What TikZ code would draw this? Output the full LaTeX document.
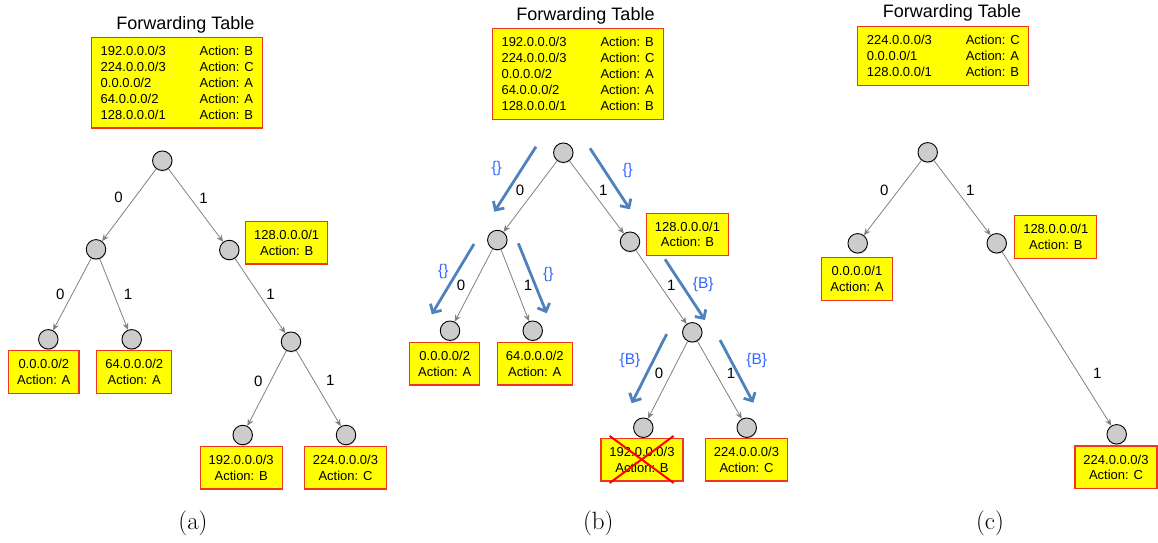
\documentclass[tikz,border=0pt]{standalone}
\usepackage{fontspec}
\setsansfont{Liberation Sans}
\usepackage{tikz}
\usetikzlibrary{arrows.meta, shadows}
\definecolor{tblyellow}{RGB}{255,255,0}
\definecolor{tblred}{RGB}{240,55,30}
\definecolor{flowblue}{RGB}{79,129,189}
\definecolor{setblue}{RGB}{51,102,255}
\tikzset{
  vertex/.style={circle, draw=black, line width=0.9pt, fill=black!20, minimum size=19.5pt, inner sep=0pt,
    drop shadow={shadow xshift=0.5pt, shadow yshift=-1.2pt, opacity=0.25}},
  entry/.style={draw=tblred, line width=1.2pt, fill=tblyellow, align=center, inner xsep=8.5pt,
    minimum height=42.5pt, font=\sffamily\fontsize{13}{15.5}\selectfont},
  fwdtable/.style={draw=tblred, line width=1.2pt, fill=tblyellow, inner xsep=9pt, inner ysep=4pt,
    font=\sffamily\fontsize{13}{16}\selectfont},
  heading/.style={anchor=base, font=\sffamily\fontsize{18}{20}\selectfont},
  branch/.style={draw=black!50, line width=0.8pt, -{Stealth[length=7pt, width=6pt, inset=2.5pt]}},
  bit/.style={font=\sffamily\fontsize{15}{17}\selectfont},
  flow/.style={draw=flowblue, line width=2.8pt, -{Straight Barb[length=6.5pt, width=13pt]}},
  setlabel/.style={text=setblue, font=\sffamily\fontsize{15.5}{17}\selectfont},
  cross/.style={draw=red, line width=2pt},
  subcap/.style={font=\fontsize{25}{29}\selectfont}
}
\newcommand{\fwtab}[1]{\begin{tabular}{@{}p{99pt}@{}l@{}}#1\end{tabular}}

\begin{document}
\begin{tikzpicture}[x=1pt, y=-1pt]
  \useasboundingbox (0,0) rectangle (1158,542);

  % ---------------- (a) full table ----------------
  \node[heading] (ahead) at (185.3,29.3) {Forwarding Table};
  \node[fwdtable] (atbl) at (177.2,82.5) {\fwtab{%
    \rule{0pt}{14pt}192.0.0.0/3 & Action: B\\
    224.0.0.0/3 & Action: C\\
    0.0.0.0/2 & Action: A\\
    64.0.0.0/2 & Action: A\\
    128.0.0.0/1 & Action: B}};
  % trie nodes
  \foreach \n/\p in {a0/{162.3,160.7}, aL/{96,249.3}, aR/{229.3,250}, aLL/{48.3,339.3},
      aLR/{131.7,339.3}, aRR/{291,341.7}, aRRL/{242.7,435}, aRRR/{346,435}}
    \node[vertex] (\n) at (\p) {};
  \draw[branch] (a0) -- (aL) node[bit, pos=0.4, left=8pt] (la1) {0};
  \draw[branch] (a0) -- (aR) node[bit, pos=0.4, right=5.3pt] (la2) {1};
  \draw[branch] (aL) -- (aLL) node[bit, midway, left=4pt] (la3) {0};
  \draw[branch] (aL) -- (aLR) node[bit, midway, right=6.4pt] (la4) {1};
  \draw[branch] (aR) -- (aRR) node[bit, pos=0.48, right=3.4pt] (la5) {1};
  \draw[branch] (aRR) -- (aRRL) node[bit, pos=0.4, left=4.6pt] (la6) {0};
  \draw[branch] (aRR) -- (aRRR) node[bit, pos=0.4, right=8.4pt] (la7) {1};
  % prefixes
  \node[entry] (a128) at (286.7,242.8) {128.0.0.0/1\\Action: B};
  \node[entry] (a000) at (43.8,372) {0.0.0.0/2\\Action: A};
  \node[entry] (a064) at (134.2,372) {64.0.0.0/2\\Action: A};
  \node[entry] (a192) at (241.2,467.8) {192.0.0.0/3\\Action: B};
  \node[entry] (a224) at (345.5,467.8) {224.0.0.0/3\\Action: C};
  \node[subcap] (acap) at (193,523.3) {(a)};

  % ---------------- (b) pushing prefixes down ----------------
  \node[heading] (bhead) at (585.5,20.7) {Forwarding Table};
  \node[fwdtable] (btbl) at (578,74.2) {\fwtab{%
    \rule{0pt}{14pt}192.0.0.0/3 & Action: B\\
    224.0.0.0/3 & Action: C\\
    0.0.0.0/2 & Action: A\\
    64.0.0.0/2 & Action: A\\
    128.0.0.0/1 & Action: B}};
  \foreach \n/\p in {b0/{563.3,152.7}, bL/{497.3,240}, bR/{630,241.7}, bLL/{450,330.7},
      bLR/{532.7,330.7}, bRR/{692.3,332.3}, bRRL/{643.3,427.7}, bRRR/{746.7,427.7}}
    \node[vertex] (\n) at (\p) {};
  \draw[branch] (b0) -- (bL) node[bit, pos=0.41, left=7.1pt] (lb1) {0};
  \draw[branch] (b0) -- (bR) node[bit, pos=0.4, right=4.1pt] (lb2) {1};
  \draw[branch] (bL) -- (bLL) node[bit, midway, left=4.6pt] (lb3) {0};
  \draw[branch] (bL) -- (bLR) node[bit, midway, right=5.2pt] (lb4) {1};
  \draw[branch] (bR) -- (bRR) node[bit, pos=0.48, right=3.3pt] (lb5) {1};
  \draw[branch] (bRR) -- (bRRL) node[bit, pos=0.41, left=4.5pt] (lb6) {0};
  \draw[branch] (bRR) -- (bRRR) node[bit, pos=0.41, right=7.6pt] (lb7) {1};
  % sets handed down each branch
  \foreach \i/\s/\e/\p/\t in {
      1/{536,146.7}/{494.3,211.7}/{496.7,168.3}/{\{\}},
      2/{590,148.3}/{630,209.3}/{627.7,170}/{\{\}},
      3/{474,244}/{431.7,314.3}/{443.3,271.7}/{\{\}},
      4/{518.3,243.3}/{546.7,313.3}/{548.3,274}/{\{\}},
      5/{665,259.3}/{705,320}/{703.3,284}/{\{B\}},
      6/{666.7,334}/{631.7,403.3}/{630,360}/{\{B\}},
      7/{720,340}/{753.3,402.7}/{756.7,360}/{\{B\}}}
  {
    \coordinate (fs\i) at (\s);
    \coordinate (fe\i) at (\e);
    \draw[flow] (fs\i) -- (fe\i);
    \node[setlabel] (fl\i) at (\p) {\t};
  }
  \node[entry] (b128) at (687.5,234.5) {128.0.0.0/1\\Action: B};
  \node[entry] (b000) at (444.7,363.8) {0.0.0.0/2\\Action: A};
  \node[entry] (b064) at (534.7,363.8) {64.0.0.0/2\\Action: A};
  \node[entry] (b192) at (642,459.8) {192.0.0.0/3\\Action: B};
  \node[entry] (b224) at (746.5,459.8) {224.0.0.0/3\\Action: C};
  % redundant entry
  \draw[cross] ([shift={(9.3,-2)}]b192.north west) -- ([shift={(-10,1.3)}]b192.south east);
  \draw[cross] ([shift={(-10,-2)}]b192.north east) -- ([shift={(9.3,1.3)}]b192.south west);
  \node[subcap] (bcap) at (598.3,523.3) {(b)};

  % ---------------- (c) compressed table ----------------
  \node[heading] (chead) at (952,17.3) {Forwarding Table};
  \node[fwdtable] (ctbl) at (943.3,56) {\fwtab{%
    \rule{0pt}{14pt}224.0.0.0/3 & Action: C\\
    0.0.0.0/1 & Action: A\\
    128.0.0.0/1 & Action: B}};
  \foreach \n/\p in {c0/{927.7,152.3}, cL/{857.7,243.3}, cR/{996.7,243.3}, cRRR/{1116.7,434.3}}
    \node[vertex] (\n) at (\p) {};
  \draw[branch] (c0) -- (cL) node[bit, pos=0.4, left=6.2pt] (lc1) {0};
  \draw[branch] (c0) -- (cR) node[bit, pos=0.4, right=5.9pt] (lc2) {1};
  \draw[branch] (cR) -- (cRRR) node[bit, pos=0.7, right=10.8pt] (lc3) {1};
  \node[entry] (c128) at (1055.8,237) {128.0.0.0/1\\Action: B};
  \node[entry] (c000) at (857,279) {0.0.0.0/1\\Action: A};
  \node[entry] (c224) at (1116,467.3) {224.0.0.0/3\\Action: C};
  \node[subcap] (ccap) at (990,523.3) {(c)};
\end{tikzpicture}
\end{document}
